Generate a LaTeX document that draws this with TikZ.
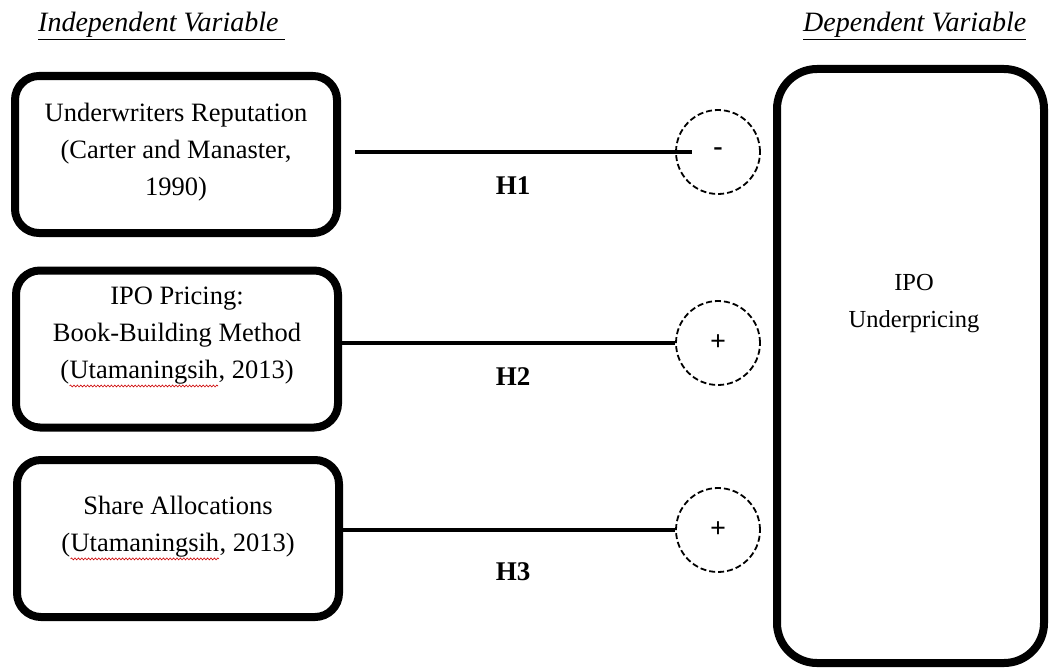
\documentclass[tikz,border=0pt]{standalone}
\usepackage{fontspec}
\setmainfont{Liberation Serif}
\usetikzlibrary{positioning,decorations.pathmorphing}
\newcommand{\spellmark}[1]{\tikz[baseline=(word.base)]{%
    \node[inner sep=0pt, outer sep=0pt] (word) {#1};
    \draw[red!80!black, line width=0.6pt, decorate,
      decoration={snake, amplitude=1pt, segment length=3.4pt}]
      ([yshift=-2pt]word.south west) -- ([yshift=-2pt]word.south east);}}
\begin{document}
\begin{tikzpicture}[x=1pt, y=-1pt,
    varbox/.style={draw, line width=8pt, rounded corners=24pt,
      minimum width=322pt, minimum height=157pt, inner sep=0pt},
    vartext/.style={align=center, font=\fontsize{26.5}{37}\selectfont},
    signcircle/.style={draw, dash pattern=on 6pt off 3pt, circle,
      line width=1.8pt, minimum size=84pt, inner sep=0pt,
      font=\fontsize{28}{30}\selectfont\bfseries},
    hyp/.style={font=\fontsize{27}{30}\selectfont\bfseries},
    link/.style={line width=3.5pt},
    head/.style={anchor=base west, inner sep=0pt,
      font=\fontsize{28}{30}\selectfont\itshape}]
  \useasboundingbox (0,0) rectangle (1049,669);
  % headings
  \node[head] (indep) at (38,32) {\underline{Independent Variable\ }};
  \node[head] (dep) at (803,32) {\underline{Dependent Variable}};
  % independent variables
  \node[varbox] (rep) at (176,154.5) {};
  \node[vartext] (reptext) at (176,152)
    {Underwriters Reputation\\(Carter and Manaster,\\1990)};
  \node[varbox] (price) at (177,349) {};
  \node[vartext] (pricetext) at (177,337)
    {IPO Pricing:\\Book-Building Method\\(\spellmark{Utamaningsih}, 2013)};
  \node[varbox] (alloc) at (178,538.5) {};
  \node[vartext] (alloctext) at (178,528)
    {Share Allocations\\(\spellmark{Utamaningsih}, 2013)};
  % dependent variable
  \node[draw, line width=8pt, rounded corners=40pt, minimum width=267pt,
    minimum height=594pt] (under) at (910.5,366) {};
  \node[vartext, font=\fontsize{24.5}{37}\selectfont] (undertext)
    at (914,304) {IPO\\Underpricing};
  % signs
  \node[signcircle] (s1) at (718,152) {-};
  \node[signcircle] (s2) at (718,343) {+};
  \node[signcircle] (s3) at (718,530) {+};
  % links
  \draw[link] ([xshift=14pt]rep.east |- s1) -- ([xshift=17pt]s1.west);
  \draw[link] (price.east |- s2) -- (s2.west);
  \draw[link] (alloc.east |- s3) -- (s3.west);
  \node[hyp] (h1) at (513,186) {H1};
  \node[hyp] (h2) at (513,377) {H2};
  \node[hyp] (h3) at (513,572) {H3};
\end{tikzpicture}
\end{document}
